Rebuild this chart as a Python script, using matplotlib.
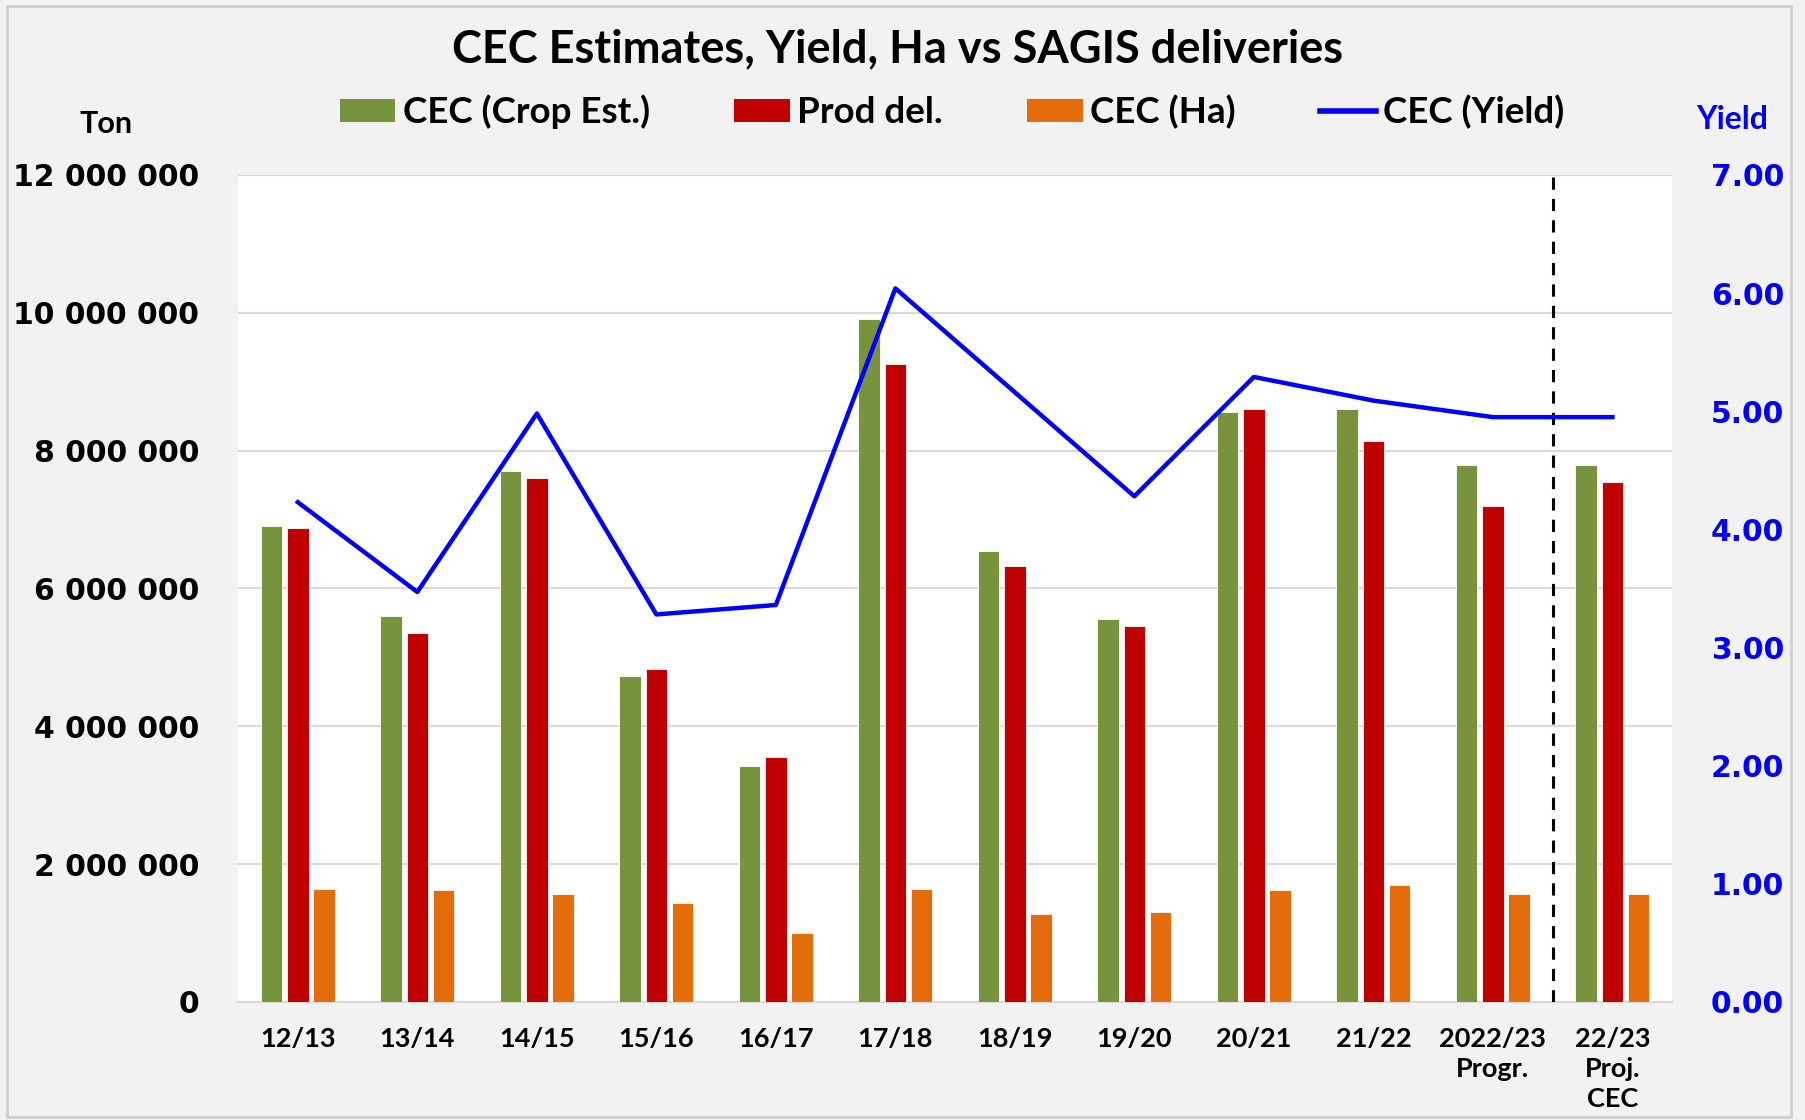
import matplotlib
matplotlib.use("Agg")
import matplotlib.pyplot as plt
import numpy as np
from matplotlib.patches import Patch, Rectangle
from matplotlib.lines import Line2D
from matplotlib.ticker import FuncFormatter

categories = ["12/13", "13/14", "14/15", "15/16", "16/17", "17/18", "18/19",
              "19/20", "20/21", "21/22", "2022/23\nProgr.", "22/23\nProj.\nCEC"]
crop_est = [6.90e6, 5.60e6, 7.70e6, 4.73e6, 3.43e6, 9.91e6, 6.54e6,
            5.55e6, 8.56e6, 8.61e6, 7.79e6, 7.79e6]
prod_del = [6.87e6, 5.35e6, 7.60e6, 4.83e6, 3.56e6, 9.26e6, 6.32e6,
            5.45e6, 8.61e6, 8.14e6, 7.19e6, 7.55e6]
hectares = [1.64e6, 1.62e6, 1.57e6, 1.44e6, 1.00e6, 1.64e6, 1.27e6,
            1.30e6, 1.62e6, 1.69e6, 1.57e6, 1.57e6]
yield_t = [4.23, 3.47, 4.98, 3.28, 3.36, 6.04, 5.16, 4.28, 5.29, 5.09, 4.95, 4.95]

left_ticks = [0, 2e6, 4e6, 6e6, 8e6, 10e6, 12e6]
right_ticks = [0, 1, 2, 3, 4, 5, 6, 7]

GREEN = "#77933C"
RED = "#C00000"
ORANGE = "#E46C0A"
BLUE = "#0000FF"
BG = "#F2F2F2"

cond = ["Lato", "DejaVu Sans"]
wide = ["DejaVu Sans"]
HW = "bold"

fig = plt.figure(figsize=(18.05, 11.2), dpi=100, facecolor=BG)
fig.patches.append(Rectangle((0.004, 0.003), 0.988, 0.992, transform=fig.transFigure,
                             fill=False, edgecolor="#D0D0D0", linewidth=2, zorder=0))

ax = fig.add_axes([0.1319, 0.1054, 0.7945, 0.7384])
ax.set_facecolor("white")
x = np.arange(len(categories))
w = 0.18
off = 0.22
ax.bar(x - off, crop_est, w, color=GREEN, edgecolor="white", linewidth=0.6, zorder=3)
ax.bar(x, prod_del, w, color=RED, edgecolor="white", linewidth=0.6, zorder=3)
ax.bar(x + off, hectares, w, color=ORANGE, edgecolor="white", linewidth=0.6, zorder=3)

ax.set_xlim(-0.5, len(categories) - 0.5)
ax.set_ylim(0, 12e6)
ax.set_yticks(left_ticks)
ax.yaxis.set_major_formatter(FuncFormatter(lambda v, p: f"{int(v):,}".replace(",", " ")))
ax.grid(axis="y", color="#D9D9D9", linewidth=1.5, zorder=0)
for s in ["top", "right", "left"]:
    ax.spines[s].set_visible(False)
ax.spines["bottom"].set_color("#D9D9D9")
ax.spines["bottom"].set_linewidth(1.5)
ax.tick_params(axis="y", length=0, pad=28, labelsize=21.5)
ax.tick_params(axis="x", length=0, pad=18)
for lbl in ax.get_yticklabels():
    lbl.set_fontweight("bold")
    lbl.set_family(wide)
ax.set_xticks(x)
ax.set_xticklabels(categories, fontsize=19.5, fontweight=HW, family=cond, linespacing=1.3)

ax2 = ax.twinx()
ax2.plot(x, yield_t, color=BLUE, linewidth=3.2, zorder=5)
ax2.set_ylim(0, 7)
ax2.set_yticks(right_ticks)
ax2.yaxis.set_major_formatter(FuncFormatter(lambda v, p: f"{v:.2f}"))
for s in ["top", "right", "left", "bottom"]:
    ax2.spines[s].set_visible(False)
ax2.tick_params(axis="y", length=0, pad=28, labelsize=21.5, labelcolor=BLUE)
for lbl in ax2.get_yticklabels():
    lbl.set_fontweight("bold")
    lbl.set_family(wide)

ax.axvline(10.5, color="black", linestyle=(0, (4, 3)), linewidth=2.2, zorder=6)

fig.text(0.4975, 0.956, "CEC Estimates, Yield, Ha vs SAGIS deliveries", ha="center", va="center",
         fontsize=32.5, fontweight=HW, family=cond)
fig.text(0.0587, 0.889, "Ton", ha="center", va="center", fontsize=22, fontweight=HW, family=cond)
fig.text(0.9595, 0.893, "Yield", ha="center", va="center", fontsize=23, fontweight=HW,
         family=cond, color=BLUE)

handles = [Patch(facecolor=GREEN, label="CEC (Crop Est.)"),
           Patch(facecolor=RED, label="Prod del."),
           Patch(facecolor=ORANGE, label="CEC (Ha)"),
           Line2D([0], [0], color=BLUE, linewidth=4, label="CEC (Yield)")]
leg = fig.legend(handles=handles, loc="center", bbox_to_anchor=(0.5275, 0.9), ncol=4,
                 frameon=False, prop={"family": cond, "weight": HW, "size": 26.5},
                 handlelength=1.5, handleheight=0.6, handletextpad=0.2, columnspacing=2.3)

fig.savefig("out.png", dpi=100, facecolor=BG)
